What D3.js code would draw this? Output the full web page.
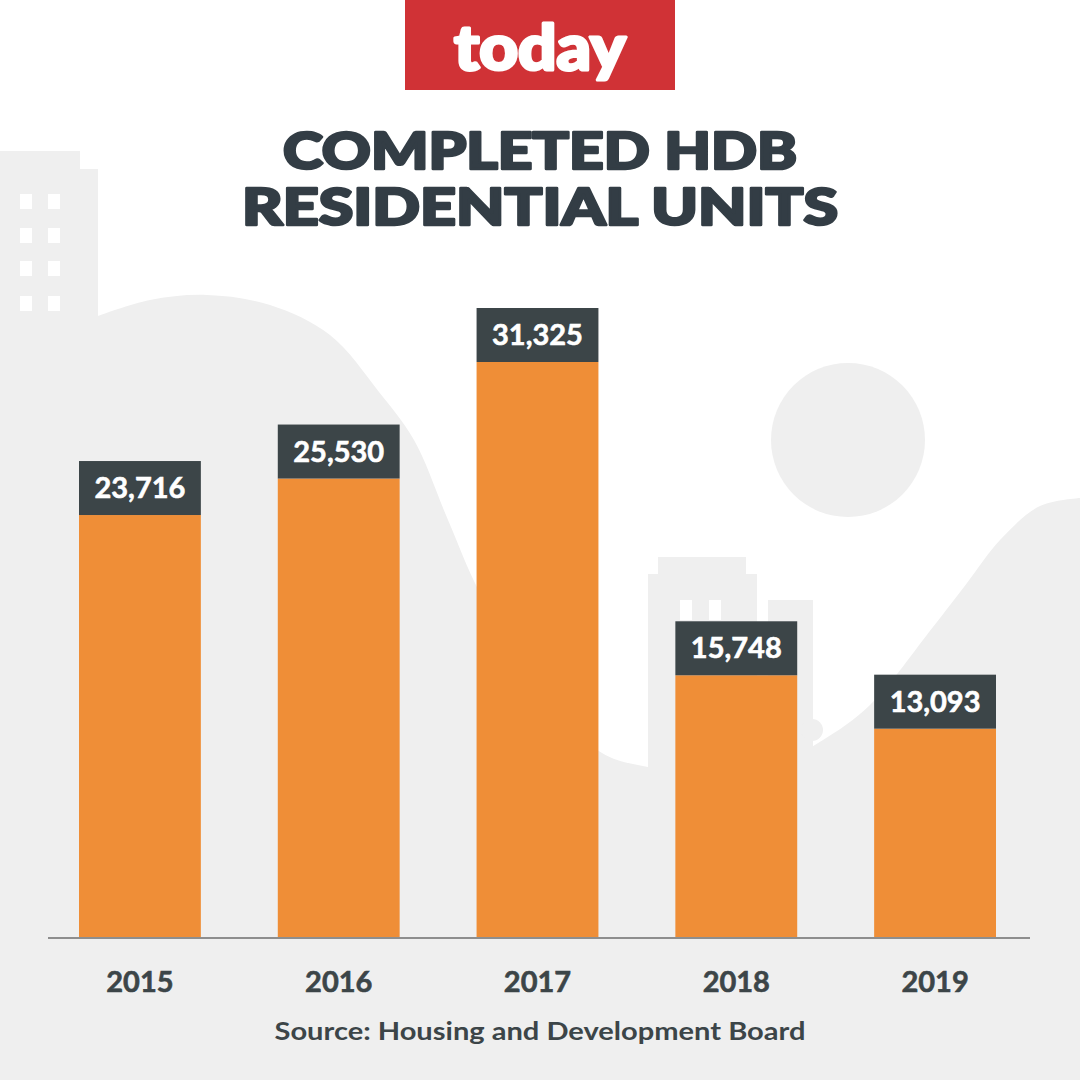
<html>
<head>
<meta charset="UTF-8">
<script src="https://d3js.org/d3.v7.min.js"></script>
<style>
    body { margin: 0; background: #ffffff; }
    svg { display: block; }
    text { font-family: Lato, "Open Sans", sans-serif; }
</style>
</head>
<body>
<svg width="1080" height="1080"></svg>
<script>
    // chart data
    const years = ["2015", "2016", "2017", "2018", "2019"];
    const units = [23716, 25530, 31325, 15748, 13093];
    const valueLabels = ["23,716", "25,530", "31,325", "15,748", "13,093"];

    const title = ["COMPLETED HDB", "RESIDENTIAL UNITS"];
    const source = "Source: Housing and Development Board";

    const W = 1080, H = 1080;
    const baseY = 938;
    const labelH = 54;

    const orange = "#ef8e37",
          dark = "#3c4548",
          grey = "#efefef",
          red = "#d03236";

    const svg = d3.select("svg");

    // ---- background scenery ----
    const bg = svg.append("g");

    const hill = [[98,316],[150,300],[207,295],[270,305],[330,335],[379,392],[414,440],
                  [448,520],[480,593],[540,690],[602,753],[648,767],[720,775],[780,762],
                  [823,740],[870,705],[933,627],[967,583],[1000,540],[1040,506],[1080,498]];
    const hillLine = d3.line().curve(d3.curveCatmullRom);
    bg.append("path")
        .attr("d", "M0,151 L80,151 L80,169 L98,169 " + hillLine(hill).replace(/^M/, "L") + " L1080,1080 L0,1080 Z")
        .attr("fill", grey);

    // left building windows
    [20, 48].forEach(wx => {
        [194, 228, 261, 296].forEach(wy => {
            bg.append("rect").attr("x", wx).attr("y", wy).attr("width", 12).attr("height", 15).attr("fill", "#fff");
        });
    });

    // sun
    bg.append("circle").attr("cx", 848).attr("cy", 440).attr("r", 77).attr("fill", grey);

    // middle buildings
    bg.append("rect").attr("x", 658).attr("y", 557).attr("width", 88).attr("height", 300).attr("fill", grey);
    bg.append("rect").attr("x", 648).attr("y", 574).attr("width", 109).attr("height", 300).attr("fill", grey);
    bg.append("rect").attr("x", 768).attr("y", 600).attr("width", 45).attr("height", 300).attr("fill", grey);
    bg.append("circle").attr("cx", 812).attr("cy", 730).attr("r", 11).attr("fill", grey);
    [680, 709].forEach(wx => {
        bg.append("rect").attr("x", wx).attr("y", 600).attr("width", 12).attr("height", 20).attr("fill", "#fff");
    });

    // ---- logo ----
    svg.append("rect").attr("x", 405).attr("y", 0).attr("width", 270).attr("height", 90).attr("fill", red);
    svg.append("text")
        .attr("x", 540).attr("y", 70)
        .attr("text-anchor", "middle")
        .attr("fill", "#fff")
        .attr("stroke", "#fff").attr("stroke-width", 3).attr("stroke-linejoin", "round")
        .style("font-size", "62px").style("font-weight", 900)
        .attr("textLength", 172).attr("lengthAdjust", "spacingAndGlyphs")
        .text("today");

    // ---- title ----
    const titleWidths = [514, 596];
    svg.selectAll("text.title")
        .data(title)
        .enter().append("text")
        .attr("class", "title")
        .attr("x", 540)
        .attr("y", (d, i) => 169 + i * 56)
        .attr("text-anchor", "middle")
        .attr("fill", "#333d45")
        .attr("stroke", "#333d45").attr("stroke-width", 2.6).attr("stroke-linejoin", "round")
        .style("font-size", "51px").style("font-weight", 900)
        .attr("textLength", (d, i) => titleWidths[i])
        .attr("lengthAdjust", "spacingAndGlyphs")
        .text(d => d);

    // ---- scales ----
    const x = d3.scaleBand()
        .domain(years)
        .range([79, 996])
        .paddingInner(0.387)
        .paddingOuter(0);

    // the top of the label box sits at the value
    const y = d3.scaleLinear()
        .domain([0, d3.max(units)])
        .range([baseY, 308]);

    const data = years.map((yr, i) => ({year: yr, value: units[i], label: valueLabels[i]}));

    const bars = svg.append("g").selectAll("g")
        .data(data)
        .enter().append("g");

    bars.append("rect")
        .attr("x", d => x(d.year))
        .attr("y", d => y(d.value) + labelH)
        .attr("width", x.bandwidth())
        .attr("height", d => baseY - y(d.value) - labelH)
        .attr("fill", orange);

    bars.append("rect")
        .attr("x", d => x(d.year))
        .attr("y", d => y(d.value))
        .attr("width", x.bandwidth())
        .attr("height", labelH)
        .attr("fill", dark);

    bars.append("text")
        .attr("x", d => x(d.year) + x.bandwidth() / 2)
        .attr("y", d => y(d.value) + labelH / 2 + 10)
        .attr("text-anchor", "middle")
        .attr("fill", "#fff")
        .attr("stroke", "#fff").attr("stroke-width", 0.6)
        .style("font-size", "29px").style("font-weight", 700)
        .text(d => d.label);

    // baseline + year axis
    const axis = svg.append("g")
        .attr("transform", `translate(0,${baseY})`)
        .call(d3.axisBottom(x).tickSize(0).tickPadding(33));
    axis.select(".domain").remove();
    svg.append("line")
        .attr("x1", 48).attr("x2", 1030)
        .attr("y1", baseY).attr("y2", baseY)
        .attr("stroke", "#8e8e8e").attr("stroke-width", 2);
    axis.selectAll("text")
        .attr("fill", dark)
        .attr("stroke", dark).attr("stroke-width", 0.6)
        .style("font-family", "Lato, sans-serif")
        .style("font-size", "29px").style("font-weight", 700);

    // ---- source ----
    svg.append("text")
        .attr("x", 540).attr("y", 1040)
        .attr("text-anchor", "middle")
        .attr("fill", dark)
        .style("font-size", "25px").style("font-weight", 700)
        .attr("textLength", 531).attr("lengthAdjust", "spacingAndGlyphs")
        .text(source);
</script>
</body>
</html>
